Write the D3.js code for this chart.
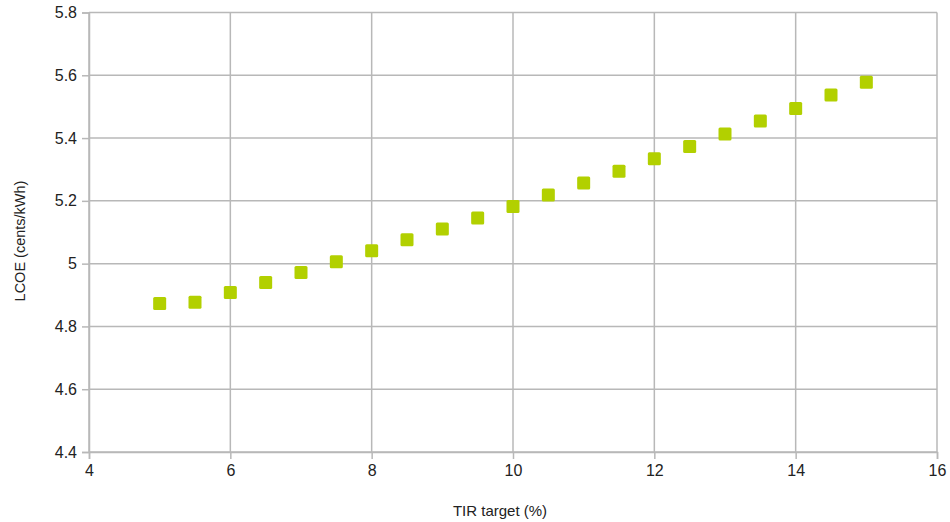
<!DOCTYPE html>
<html>
<head>
<meta charset="utf-8">
<script src="https://cdn.jsdelivr.net/npm/d3@7/dist/d3.min.js"></script>
<style>
  html, body { margin: 0; padding: 0; background: #fff; }
  svg { display: block; }
  text { font-family: "Liberation Sans", Arial, sans-serif; fill: #222; }
</style>
</head>
<body>
<svg id="chart" width="950" height="522"></svg>
<script>
const tirTarget = [5, 5.5, 6, 6.5, 7, 7.5, 8, 8.5, 9, 9.5, 10, 10.5, 11, 11.5, 12, 12.5, 13, 13.5, 14, 14.5, 15];
const lcoe = [4.873, 4.877, 4.908, 4.940, 4.972, 5.006, 5.041, 5.076, 5.110, 5.145, 5.182, 5.219, 5.257, 5.294, 5.334, 5.373, 5.413, 5.454, 5.494, 5.537, 5.578];
const xTicks = [4, 6, 8, 10, 12, 14, 16];
const yTicks = [4.4, 4.6, 4.8, 5.0, 5.2, 5.4, 5.6, 5.8];
const xTitle = "TIR target (%)";
const yTitle = "LCOE (cents/kWh)";

(function () {
const svg = d3.select("#chart");
const pLeft = 89, pRight = 937, pTop = 12.5, pBottom = 452;
const x = d3.scaleLinear().domain([4, 16]).range([pLeft, pRight]);
const y = d3.scaleLinear().domain([4.4, 5.8]).range([pBottom, pTop]);
const gridColor = "#b8b8b8";

// grid lines
svg.append("g").selectAll("line").data(xTicks).join("line")
  .attr("x1", d => x(d)).attr("x2", d => x(d))
  .attr("y1", pTop).attr("y2", pBottom)
  .attr("stroke", gridColor).attr("stroke-width", 1.5);
svg.append("g").selectAll("line").data(yTicks).join("line")
  .attr("x1", pLeft).attr("x2", pRight)
  .attr("y1", d => y(d)).attr("y2", d => y(d))
  .attr("stroke", gridColor).attr("stroke-width", 1.5);

// axes
const xAxis = d3.axisBottom(x).tickValues(xTicks).tickSize(7).tickPadding(6)
  .tickFormat(d3.format("d"));
const yAxis = d3.axisLeft(y).tickValues(yTicks).tickSize(7).tickPadding(5)
  .tickFormat(d => Math.abs(d - 5) < 1e-9 ? "5" : d3.format(".1f")(d));

const gx = svg.append("g").attr("transform", `translate(0,${pBottom})`).call(xAxis);
const gy = svg.append("g").attr("transform", `translate(${pLeft},0)`).call(yAxis);
[gx, gy].forEach(g => {
  g.select(".domain").attr("stroke", gridColor).attr("stroke-width", 1.5);
  g.selectAll(".tick line").attr("stroke", gridColor).attr("stroke-width", 1.5);
  g.selectAll(".tick text").attr("font-size", 16).attr("font-family", "Liberation Sans, Arial, sans-serif").attr("fill", "#222");
});

// titles
svg.append("text").attr("x", 500).attr("y", 516).attr("text-anchor", "middle")
  .attr("font-size", 15).text(xTitle);
svg.append("text").attr("transform", "translate(25,241) rotate(-90)")
  .attr("text-anchor", "middle").attr("font-size", 14.5).text(yTitle);

// markers
const s = 13;
svg.append("g").selectAll("rect").data(tirTarget.map((t, i) => [t, lcoe[i]])).join("rect")
  .attr("x", d => x(d[0]) - s / 2).attr("y", d => y(d[1]) - s / 2)
  .attr("width", s).attr("height", s).attr("rx", 1.5)
  .attr("fill", "#b2d000");
})();
</script>
</body>
</html>
